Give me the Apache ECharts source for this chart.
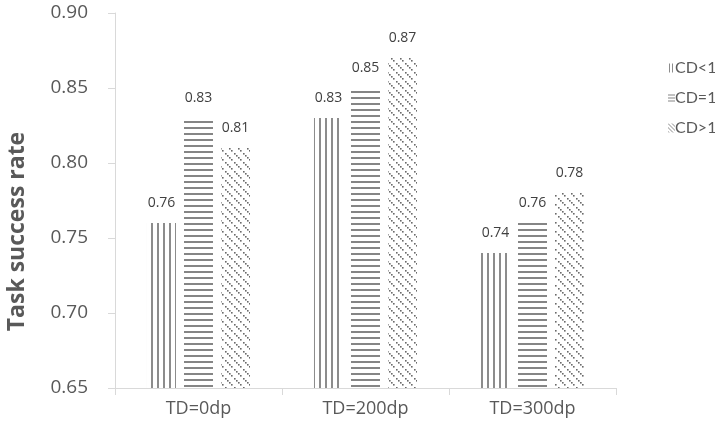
<!DOCTYPE html>
<html>
<head>
<meta charset="utf-8">
<script src="https://cdn.jsdelivr.net/npm/echarts@6/dist/echarts.min.js"></script>
<style>
  html, body { margin: 0; padding: 0; background: #fff; }
  #chart { width: 715px; height: 429px; }
</style>
</head>
<body>
<div id="chart"></div>
<script>
// Task success rate per target distance, split by CD class
const categories = ['TD=0dp', 'TD=200dp', 'TD=300dp'];
const seriesNames = ['CD<1', 'CD=1', 'CD>1'];
const cdBelow1 = [0.76, 0.83, 0.74];
const cdEqual1 = [0.83, 0.85, 0.76];
const cdAbove1 = [0.81, 0.87, 0.78];
const yTicks = [0.65, 0.70, 0.75, 0.80, 0.85, 0.90];

// Hatch fills drawn on small tiles and repeated across each bar
function tile(w, h, draw) {
  const c = document.createElement('canvas');
  c.width = w; c.height = h;
  const ctx = c.getContext('2d');
  draw(ctx);
  return { image: c, repeat: 'repeat' };
}
const verticalHatch = tile(6, 6, ctx => {
  ctx.fillStyle = '#8c8c8c';
  ctx.fillRect(1, 0, 2, 6);
});
const horizontalHatch = tile(6, 6, ctx => {
  ctx.fillStyle = '#858585';
  ctx.fillRect(0, 1, 6, 2);
});
const diagonalHatch = tile(9, 9, ctx => {
  ctx.fillStyle = '#6a6a6a';
  for (let i = 0; i < 8; i += 2) ctx.fillRect(i, i, 1.6, 1.6);
});

// Finer versions for the small legend swatches
const verticalIcon = tile(3, 3, ctx => {
  ctx.fillStyle = '#8c8c8c';
  ctx.fillRect(1, 0, 1, 3);
});
const horizontalIcon = tile(3, 3, ctx => {
  ctx.fillStyle = '#858585';
  ctx.fillRect(0, 1, 3, 1);
});
const diagonalIcon = tile(4, 4, ctx => {
  ctx.fillStyle = '#8a8a8a';
  for (let i = 0; i < 4; i += 1) ctx.fillRect(i, i, 1, 1);
});

const labelStyle = {
  show: true,
  position: 'top',
  distance: 13,
  color: '#404040',
  fontFamily: 'Open Sans',
  fontSize: 14,
  formatter: p => p.value.toFixed(2)
};

function bar(name, data, fill) {
  return {
    name, type: 'bar', data,
    barWidth: 29,
    barGap: '27.6%',
    itemStyle: { color: fill },
    label: labelStyle
  };
}

const chart = echarts.init(document.getElementById('chart'), null, { renderer: 'canvas' });
chart.setOption({
  animation: false,
  backgroundColor: '#ffffff',
  grid: { left: 115, right: 99, top: 13, bottom: 41, containLabel: false, outerBoundsMode: 'none' },
  legend: {
    orient: 'vertical',
    left: 663,
    top: 55,
    itemWidth: 7,
    itemHeight: 9,
    itemGap: 14,
    icon: 'rect',
    textStyle: { color: '#595959', fontFamily: 'Lato', fontSize: 16, padding: [0, 0, 0, -5] },
    data: [
      { name: seriesNames[0], itemStyle: { color: verticalIcon } },
      { name: seriesNames[1], itemStyle: { color: horizontalIcon } },
      { name: seriesNames[2], itemStyle: { color: diagonalIcon } }
    ]
  },
  xAxis: {
    type: 'category',
    data: categories,
    axisLine: { lineStyle: { color: '#d9d9d9', width: 1 } },
    axisTick: { show: true, length: 7, lineStyle: { color: '#d9d9d9' } },
    axisLabel: { color: '#595959', fontFamily: 'Open Sans', fontSize: 18, margin: 12 }
  },
  yAxis: {
    type: 'value',
    min: yTicks[0],
    max: yTicks[yTicks.length - 1],
    interval: 0.05,
    name: 'Task success rate',
    nameLocation: 'middle',
    nameGap: 86,
    nameTextStyle: { color: '#595959', fontFamily: 'Open Sans', fontSize: 23, fontWeight: 'bold', padding: [0, 62, 0, 0] },
    axisLine: { show: true, lineStyle: { color: '#d9d9d9', width: 1 } },
    axisTick: { show: true, length: 7, lineStyle: { color: '#d9d9d9' } },
    splitLine: { show: false },
    axisLabel: { color: '#595959', fontFamily: 'Open Sans', fontSize: 19, margin: 27, formatter: v => v.toFixed(2) }
  },
  series: [
    bar(seriesNames[0], cdBelow1, verticalHatch),
    bar(seriesNames[1], cdEqual1, horizontalHatch),
    bar(seriesNames[2], cdAbove1, diagonalHatch)
  ]
});
</script>
</body>
</html>
